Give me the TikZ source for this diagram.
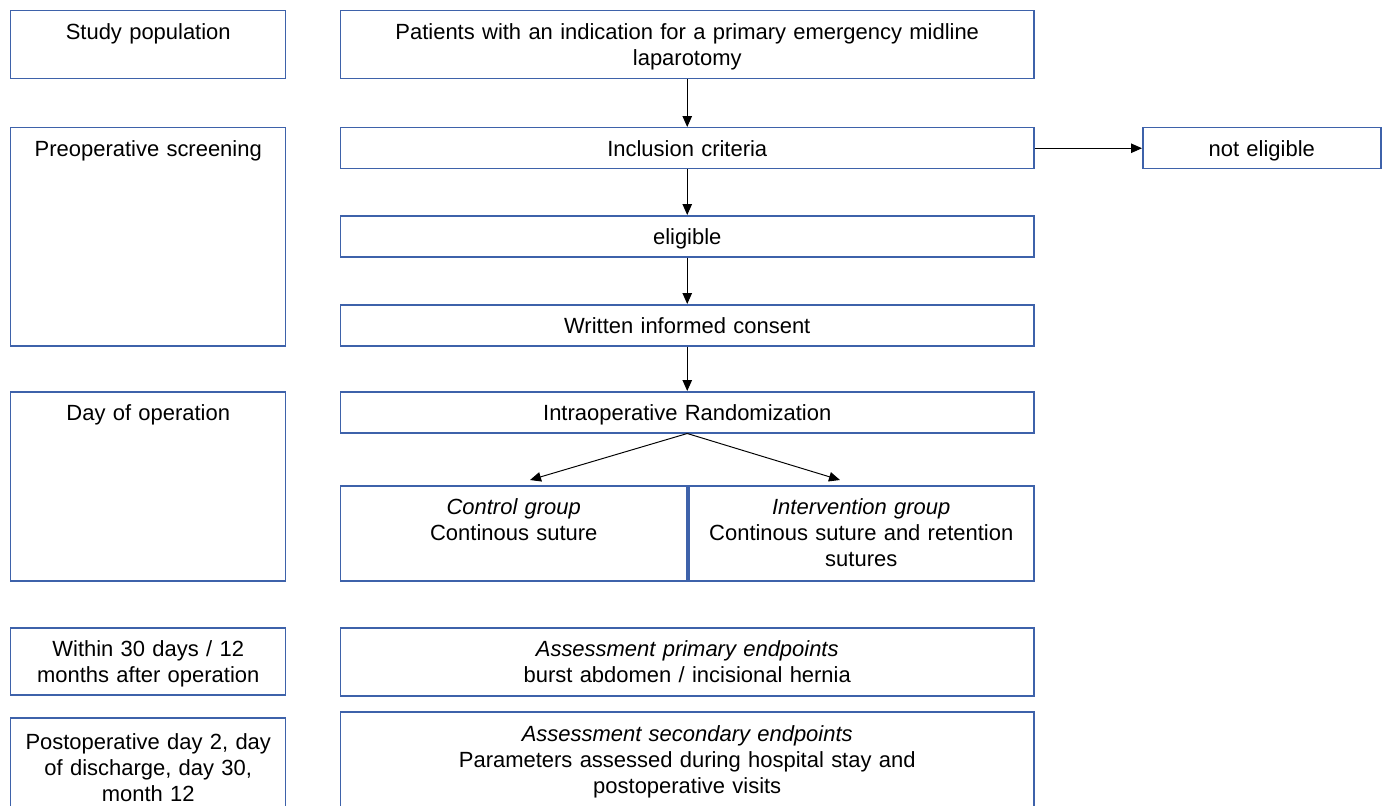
\documentclass[tikz,border=0pt]{standalone}
\usepackage{fontspec}
\setmainfont{Liberation Sans}
\usetikzlibrary{arrows.meta}

\definecolor{boxblue}{RGB}{62,98,170}

\tikzset{
  box/.style 2 args={draw=boxblue, line width=0.85pt, anchor=north west, inner sep=0pt,
    align=center, text width=#1cm, text height=0.57cm, text depth=#2cm,
    font=\fontsize{12.5}{14.74}\selectfont},
  arr/.style={-{Triangle[length=2.2mm,width=1.9mm]}, line width=0.55pt, black}
}

\begin{document}
\begin{tikzpicture}

			\clip (0,0) rectangle (27.74,-16.1);

			% Left column
			\node[box={5.5}{0.79}] (study) at (0.2,-0.2) {Study population};
			\node[box={5.5}{3.79}] (screen) at (0.2,-2.54) {Preoperative screening};
			\node[box={5.5}{3.21}] (opday) at (0.2,-7.82) {Day of operation};
			\node[box={5.5}{0.77}] (within) at (0.2,-12.54) {Within 30 days / 12\\months after operation};
			\node[box={5.5}{1.35}, text height=0.63cm] (postop) at (0.2,-14.34) {Postoperative day 2, day\\of discharge, day 30,\\month 12};

			% Main flow
			\node[box={13.86}{0.79}] (patients) at (6.8,-0.2) {Patients with an indication for a primary emergency midline\\laparotomy};
			\node[box={13.86}{0.25}] (incl) at (6.8,-2.54) {Inclusion criteria};
			\node[box={4.76}{0.25}] (noteli) at (22.84,-2.54) {not eligible};
			\node[box={13.86}{0.25}] (eli) at (6.8,-4.3) {eligible};
			\node[box={13.86}{0.25}] (consent) at (6.8,-6.08) {Written informed consent};
			\node[box={13.86}{0.25}] (random) at (6.8,-7.82) {Intraoperative Randomization};

			% Groups
			\node[box={6.92}{1.33}] (control) at (6.8,-9.7) {\textit{Control group}\\Continous suture};
			\node[box={6.9}{1.33}] (interv) at (13.76,-9.7) {\textit{Intervention group}\\Continous suture and retention\\sutures};

			% Endpoints
			\node[box={13.86}{0.79}] (primary) at (6.8,-12.54) {\textit{Assessment primary endpoints}\\burst abdomen / incisional hernia};
			\node[box={13.86}{1.35}, text height=0.59cm] (second) at (6.8,-14.22) {\textit{Assessment secondary endpoints}\\Parameters assessed during hospital stay and\\postoperative visits};

			% Arrows
			\coordinate (toctrl) at (10.6,-9.6);
			\coordinate (tointv) at (16.8,-9.6);

			\draw[arr] (patients) -- (incl);
			\draw[arr] (incl) -- (noteli);
			\draw[arr] (incl) -- (eli);
			\draw[arr] (eli) -- (consent);
			\draw[arr] (consent) -- (random);
			\draw[arr] (random.south) -- (toctrl);
			\draw[arr] (random.south) -- (tointv);

		\end{tikzpicture}
\end{document}
